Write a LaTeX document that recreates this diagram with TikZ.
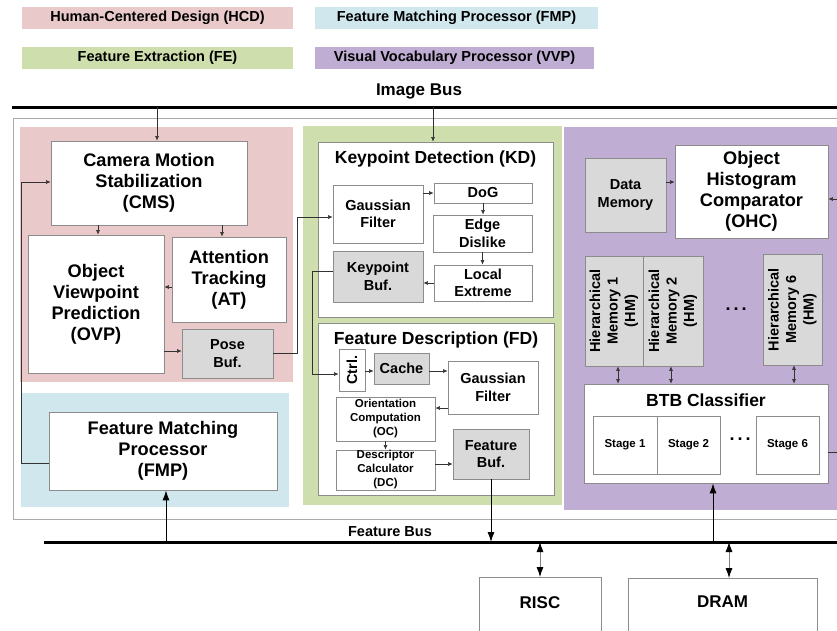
\documentclass[tikz,border=0pt]{standalone}
\usepackage{fontspec}
\setmainfont{Liberation Sans}
\usepackage{graphicx}
\usetikzlibrary{arrows.meta}

\definecolor{pinkR}{RGB}{234,201,202}
\definecolor{blueR}{RGB}{207,231,237}
\definecolor{greenR}{RGB}{206,222,172}
\definecolor{purpleR}{RGB}{192,173,211}
\definecolor{grayB}{RGB}{217,217,217}
\definecolor{borderC}{RGB}{140,140,140}
\definecolor{outerC}{RGB}{170,170,170}
\definecolor{linkC}{RGB}{50,50,50}

\newcommand\fbig{\bfseries\fontsize{18.2}{21}\selectfont}
\newcommand\ftitle{\bfseries\fontsize{17.5}{20.5}\selectfont}
\newcommand\fmid{\bfseries\fontsize{14.5}{17.5}\selectfont}
\newcommand\fsmall{\bfseries\fontsize{11.5}{14}\selectfont}
\newcommand\fstage{\bfseries\fontsize{11.5}{14}\selectfont}

\tikzset{
  sz/.style 2 args={minimum width=#1pt, minimum height=#2pt},
  box/.style={draw=borderC, line width=0.8pt, fill=white, inner sep=0pt, align=center, font=\fmid},
  bigbox/.style={box, font=\fbig},
  buf/.style={box, fill=grayB},
  legend/.style={fill=#1, inner sep=0pt, font=\fmid},
  title/.style={anchor=center, yshift=-17pt, font=\ftitle},
  link/.style={draw=linkC, line width=0.6pt},
  sarr/.style={link, -{Latex[length=4.5pt,width=4pt]}},
  sdbl/.style={link, {Latex[length=4.5pt,width=4pt]}-{Latex[length=4.5pt,width=4pt]}},
  barr/.style={draw=black, line width=0.9pt, -{Latex[length=10pt,width=7pt]}},
  bdbl/.style={draw=gray, line width=0.8pt, {Latex[length=10pt,width=7pt,color=black]}-{Latex[length=10pt,width=7pt,color=black]}},
  bus/.style={draw=black, line width=3pt},
  dots/.style={inner sep=0pt, font=\bfseries\fontsize{18}{18}\selectfont},
}

\begin{document}
\begin{tikzpicture}[x=1pt,y=-1pt]
\clip (0,0) rectangle (837,630);

% legend
\node[legend=pinkR, sz={271}{22}] (lgHCD) at (157.5,18) {Human-Centered Design (HCD)};
\node[legend=blueR, sz={283}{22}] (lgFMP) at (456.5,18) {Feature Matching Processor (FMP)};
\node[legend=greenR, sz={271}{22}] (lgFE) at (157.5,58) {Feature Extraction (FE)};
\node[legend=purpleR, sz={279}{22}] (lgVVP) at (454.5,58) {Visual Vocabulary Processor (VVP)};

% image bus
\node[font=\bfseries\fontsize{17}{20}\selectfont] (ibLabel) at (419,91) {Image Bus};
\coordinate (ibL) at (12,107);
\coordinate (ibR) at (837,107);
\draw[bus] (ibL) -- (ibR);

% chip outline and the four processor regions
\draw[outerC, line width=0.8pt] (13,118) rectangle (845,519);
\fill[pinkR] (20,127) rectangle (293,382);
\fill[blueR] (21,393) rectangle (289,507);
\fill[greenR] (303,126) rectangle (562,505);
\fill[purpleR] (564,127) rectangle (845,510);

% feature bus
\coordinate (fbL) at (44,542);
\coordinate (fbR) at (837,542);
\draw[bus] (fbL) -- (fbR);
\node[font=\fmid] (fbLabel) at (390,532) {Feature Bus};

% ---- human-centered design
\node[bigbox, sz={196}{84}] (CMS) at (149,183) {Camera Motion\\Stabilization\\(CMS)};
\node[bigbox, sz={136}{138}] (OVP) at (96,304) {Object\\Viewpoint\\Prediction\\(OVP)};
\node[bigbox, sz={114}{85}] (AT) at (229,279.5) {Attention\\Tracking\\(AT)};
\node[buf, sz={91}{49}] (Pose) at (227.5,353.5) {Pose\\Buf.};

% ---- feature matching processor
\node[bigbox, sz={228}{78}] (FMP) at (163,451) {Feature Matching\\Processor\\(FMP)};

% ---- keypoint detection
\node[box, sz={235}{175}, label={[title]north:Keypoint Detection (KD)}] (KD) at (435.5,229.5) {};
\node[box, sz={90}{58}] (KDGF) at (378,214) {Gaussian\\Filter};
\node[box, sz={98}{20}] (DoG) at (483,193) {DoG};
\node[box, sz={99}{37}] (Edge) at (482.5,233.5) {Edge\\Dislike};
\node[box, sz={98}{36}] (Local) at (483,283) {Local\\Extreme};
\node[buf, sz={90}{51}] (KBuf) at (378,276.5) {Keypoint\\Buf.};

% ---- feature description
\node[box, sz={236}{172}, label={[title]north:Feature Description (FD)}] (FD) at (436,409) {};
\node[box, sz={26}{42}] (Ctrl) at (352,370) {\rotatebox{90}{Ctrl.}};
\node[buf, sz={55}{31}] (Cache) at (401.5,368.5) {Cache};
\node[box, sz={90}{53}] (FDGF) at (493,387.5) {Gaussian\\Filter};
\node[box, sz={99}{44}, font=\fsmall] (OC) at (385.5,419) {Orientation\\Computation\\(OC)};
\node[box, sz={99}{40}, font=\fsmall] (DC) at (385.5,470) {Descriptor\\Calculator\\(DC)};
\node[buf, sz={76}{50}] (FBuf) at (491,454) {Feature\\Buf.};

% ---- visual vocabulary processor
\node[buf, sz={81}{74}] (DMem) at (625.5,195) {Data\\Memory};
\node[bigbox, sz={153}{93}] (OHC) at (751.5,191.5) {Object\\Histogram\\Comparator\\(OHC)};
\node[buf, sz={58}{110}] (HM1) at (614,311) {\rotatebox{90}{\begin{tabular}{@{}c@{}}Hierarchical\\Memory 1\\(HM)\end{tabular}}};
\node[buf, sz={60}{110}] (HM2) at (673,311) {\rotatebox{90}{\begin{tabular}{@{}c@{}}Hierarchical\\Memory 2\\(HM)\end{tabular}}};
\node[buf, sz={59}{111}] (HM6) at (792.5,309.5) {\rotatebox{90}{\begin{tabular}{@{}c@{}}Hierarchical\\Memory 6\\(HM)\end{tabular}}};
\node[dots] (hmDots) at (736,309) {.\hspace{3pt}.\hspace{3pt}.};
\node[box, sz={244}{99}, label={[title]north:BTB Classifier}] (BTB) at (706,433.5) {};
\node[box, sz={64}{58}, font=\fstage] (St1) at (625,445) {Stage 1};
\node[box, sz={63}{58}, font=\fstage] (St2) at (688.5,445) {Stage 2};
\node[box, sz={63}{58}, font=\fstage] (St6) at (787.5,445) {Stage 6};
\node[dots] (stDots) at (740,439) {.\hspace{3pt}.\hspace{3pt}.};

% ---- off-chip
\node[box, sz={122}{70}, anchor=north, label={[anchor=center, yshift=-26pt, font=\bfseries\fontsize{17}{20}\selectfont]north:RISC}] (RISC) at (540,577) {};
\node[box, sz={189}{70}, anchor=north, label={[anchor=center, yshift=-24pt, font=\bfseries\fontsize{17}{20}\selectfont]north:DRAM}] (DRAM) at (722.5,578) {};

% helper coordinates for connector positions
\coordinate (ibA) at (157,107);
\coordinate (ibB) at (433,107);
\coordinate (x98) at (98,0);
\coordinate (x222) at (222,0);
\coordinate (y287) at (0,287);
\coordinate (y351) at (0,351);
\coordinate (bendP) at (297,217);
\coordinate (bendF1) at (21,463);
\coordinate (bendF2) at (21,182);
\coordinate (bendK1) at (312,271);
\coordinate (bendK2) at (312,374);
\coordinate (y371) at (0,371);
\coordinate (y408) at (0,408);
\coordinate (y464) at (0,464);
\coordinate (y182) at (0,182);
\coordinate (fbA) at (166,542);
\coordinate (fbC) at (540,542);
\coordinate (fbD) at (729,542);
\coordinate (fbB) at (713,542);
\coordinate (ohcIn) at (837,199);
\coordinate (btbOut) at (837,452);
\coordinate (x618) at (618,0);
\coordinate (x671) at (671,0);
\coordinate (x794) at (794,0);

% connectors
\draw[sarr] (ibA) -- (ibA |- CMS.north);
\draw[sarr] (ibB) -- (ibB |- KD.north);
\draw[sarr] (CMS.south -| x98) -- (OVP.north -| x98);
\draw[sarr] (CMS.south -| x222) -- (AT.north -| x222);
\draw[sarr] (AT.west |- y287) -- (OVP.east |- y287);
\draw[sarr] (OVP.east |- y351) -- (Pose.west |- y351);
\draw[sarr] (Pose.east) -| (bendP) -- (KDGF.west |- bendP);
\draw[sarr] (FMP.west |- bendF1) -- (bendF1) -- (bendF2) -- (CMS.west |- bendF2);
\draw[barr] (fbA) -- (fbA |- FMP.south);

\draw[sarr] (KDGF.east |- DoG.west) -- (DoG.west);
\draw[sarr] (DoG.south) -- (DoG.south |- Edge.north);
\draw[sarr] (Edge.south) -- (Edge.south |- Local.north);
\draw[sarr] (Local.west) -- (KBuf.east |- Local.west);
\draw[sarr] (KBuf.west |- bendK1) -- (bendK1) -- (bendK2) -- (Ctrl.west |- bendK2);

\draw[sarr] (Ctrl.east |- y371) -- (Cache.west |- y371);
\draw[sarr] (Cache.east |- y371) -- (FDGF.west |- y371);
\draw[sarr] (FDGF.west |- y408) -- (OC.east |- y408);
\draw[sarr] (OC.south) -- (DC.north);
\draw[sarr] (DC.east |- y464) -- (FBuf.west |- y464);
\draw[barr] (FBuf.south) -- (FBuf.south |- fbL);

\draw[bdbl] (fbC) -- (fbC |- RISC.north);
\draw[bdbl] (fbD) -- (fbD |- DRAM.north);
\draw[barr] (fbB) -- (fbB |- BTB.south);

\draw[sarr] (DMem.east |- y182) -- (OHC.west |- y182);
\draw[sarr] (ohcIn) -- (OHC.east |- ohcIn);
\draw[link] (BTB.east |- btbOut) -- (btbOut);
\draw[sdbl] (HM1.south -| x618) -- (BTB.north -| x618);
\draw[sdbl] (HM2.south -| x671) -- (BTB.north -| x671);
\draw[sdbl] (HM6.south -| x794) -- (BTB.north -| x794);
\end{tikzpicture}
\end{document}
